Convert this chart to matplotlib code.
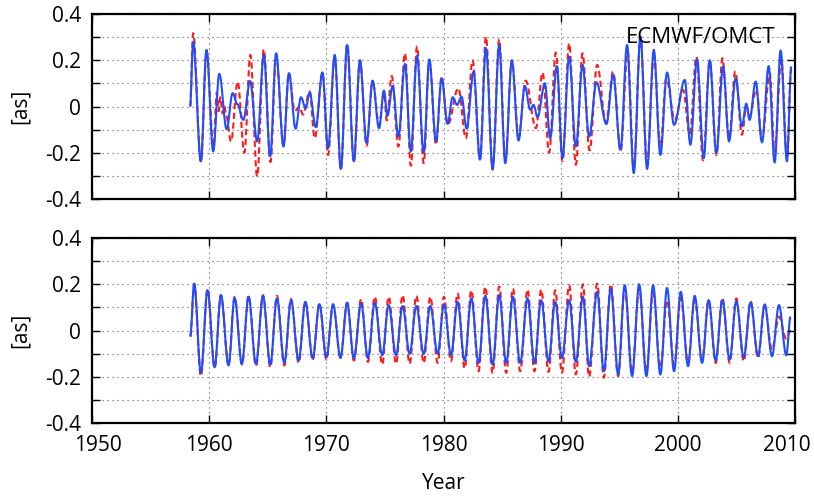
import matplotlib
matplotlib.use("Agg")
import matplotlib.pyplot as plt
from matplotlib.ticker import MultipleLocator, FuncFormatter
from matplotlib.path import Path
from matplotlib.patches import PathPatch
from matplotlib.transforms import ScaledTranslation

plt.rcParams["font.family"] = ["Open Sans", "DejaVu Sans"]
plt.rcParams["axes.unicode_minus"] = False

# ---- upper panel: ECMWF/OMCT excitation, turning points of each curve ----
top_blue_t = [1958.37, 1958.63, 1959.29, 1959.77, 1960.34, 1960.86, 1961.49, 1962.00, 1962.40,
              1962.91, 1963.49, 1964.09, 1964.66, 1965.20, 1965.71, 1966.34, 1966.80, 1967.37,
              1967.83, 1968.23, 1968.57, 1969.09, 1969.66, 1970.14, 1970.71, 1971.23, 1971.77,
              1972.34, 1972.86, 1973.43, 1973.94, 1974.49, 1974.91, 1975.20, 1975.65, 1976.14,
              1976.70, 1977.20, 1977.73, 1978.30, 1978.78, 1979.35, 1979.83, 1980.34, 1980.77,
              1981.15, 1981.53, 1981.96, 1982.56, 1983.10, 1983.61, 1984.18, 1984.74, 1985.26,
              1985.82, 1986.39, 1986.93, 1987.39, 1987.67, 1988.01, 1988.64, 1989.09, 1989.66,
              1990.14, 1990.71, 1991.28, 1991.85, 1992.41, 1993.04, 1993.89, 1994.46, 1995.09,
              1995.65, 1996.22, 1996.79, 1997.36, 1997.93, 1998.49, 1999.06, 1999.66, 2000.57,
              2001.05, 2001.62, 2002.19, 2002.70, 2003.27, 2003.84, 2004.35, 2004.91, 2005.45,
              2005.82, 2006.10, 2006.62, 2007.16, 2007.73, 2008.24, 2008.75, 2009.29, 2009.66]
top_blue_v = [0.000, 0.280, -0.237, 0.245, -0.194, 0.141, -0.098, 0.058, 0.010,
              -0.058, 0.110, -0.151, 0.223, -0.216, 0.230, -0.173, 0.144, -0.096,
              0.040, -0.007, 0.060, -0.089, 0.147, -0.180, 0.223, -0.270, 0.266,
              -0.237, 0.199, -0.158, 0.112, -0.094, 0.069, -0.040, 0.089, -0.130,
              0.184, -0.194, 0.219, -0.199, 0.204, -0.151, 0.122, -0.075, 0.040,
              0.007, 0.043, -0.096, 0.151, -0.230, 0.252, -0.270, 0.266, -0.245,
              0.199, -0.147, 0.089, -0.014, 0.007, -0.046, 0.100, -0.137, 0.175,
              -0.223, 0.216, -0.173, 0.180, -0.130, 0.104, -0.076, 0.137, -0.187,
              0.266, -0.288, 0.302, -0.270, 0.245, -0.209, 0.147, -0.079, 0.115,
              -0.165, 0.204, -0.223, 0.200, -0.200, 0.173, -0.151, 0.122, -0.086,
              0.012, -0.058, 0.108, -0.155, 0.175, -0.242, 0.242, -0.237, 0.173]

top_red_t = [1958.37, 1958.63, 1959.29, 1959.77, 1960.37, 1960.65, 1960.80, 1960.95, 1961.15,
             1961.30, 1961.45, 1961.86, 1962.43, 1963.00, 1963.51, 1964.09, 1964.66, 1965.23,
             1965.71, 1966.34, 1966.80, 1967.30, 1967.70, 1968.00, 1968.57, 1969.00, 1969.66,
             1970.14, 1970.71, 1971.23, 1971.77, 1972.34, 1972.86, 1973.43, 1973.94, 1974.49,
             1974.91, 1975.15, 1975.57, 1976.14, 1976.70, 1977.20, 1977.73, 1978.30, 1978.78,
             1979.35, 1979.83, 1980.34, 1981.25, 1981.90, 1982.47, 1983.10, 1983.61, 1984.18,
             1984.74, 1985.26, 1985.82, 1986.39, 1987.00, 1987.87, 1988.44, 1989.00, 1989.57,
             1990.14, 1990.71, 1991.28, 1991.85, 1992.45, 1993.10, 1993.85, 1994.46, 1995.09,
             1995.70, 1996.22, 1996.79, 1997.36, 1997.93, 1998.49, 1999.00, 1999.72, 2000.43,
             2001.00, 2001.56, 2002.13, 2002.70, 2003.27, 2003.78, 2004.35, 2004.88, 2005.45,
             2005.82, 2006.10, 2006.68, 2007.16, 2007.82, 2008.24, 2008.81, 2009.29, 2009.66]
top_red_v = [0.000, 0.317, -0.240, 0.237, -0.173, 0.060, -0.020, 0.040, -0.030,
             0.000, -0.040, -0.151, 0.108, -0.200, 0.223, -0.302, 0.247, -0.240,
             0.223, -0.170, 0.144, -0.020, 0.000, -0.035, 0.065, -0.137, 0.147,
             -0.210, 0.215, -0.275, 0.270, -0.240, 0.200, -0.170, 0.110, -0.080,
             0.060, -0.060, 0.132, -0.173, 0.230, -0.256, 0.259, -0.245, 0.200,
             -0.165, 0.130, -0.080, 0.079, -0.137, 0.200, -0.227, 0.302, -0.273,
             0.290, -0.237, 0.200, -0.130, 0.112, -0.094, 0.147, -0.200, 0.233,
             -0.237, 0.273, -0.252, 0.230, -0.190, 0.180, -0.070, 0.151, -0.194,
             0.237, -0.266, 0.302, -0.245, 0.216, -0.173, 0.122, -0.058, 0.072,
             -0.122, 0.216, -0.233, 0.200, -0.210, 0.209, -0.137, 0.151, -0.122,
             0.000, -0.040, 0.075, -0.145, 0.144, -0.194, 0.204, -0.216, 0.165]

# ---- lower panel: turning points shared by both curves ----
bottom_t = [1958.38, 1958.72, 1959.29, 1959.86, 1960.46, 1961.00, 1961.65, 1962.17, 1962.79,
            1963.36, 1963.99, 1964.59, 1965.21, 1965.78, 1966.41, 1966.98, 1967.63, 1968.20,
            1968.83, 1969.40, 1970.00, 1970.57, 1971.20, 1971.77, 1972.34, 1972.96, 1973.54,
            1974.13, 1974.76, 1975.31, 1975.94, 1976.50, 1977.10, 1977.67, 1978.30, 1978.86,
            1979.49, 1980.03, 1980.63, 1981.19, 1981.79, 1982.36, 1982.98, 1983.55, 1984.18,
            1984.74, 1985.34, 1985.91, 1986.53, 1987.16, 1987.75, 1988.32, 1988.95, 1989.52,
            1990.09, 1990.71, 1991.28, 1991.88, 1992.41, 1993.10, 1993.67, 1994.26, 1994.89,
            1995.45, 1996.08, 1996.68, 1997.30, 1997.87, 1998.49, 1999.06, 1999.66, 2000.23,
            2000.85, 2001.42, 2002.05, 2002.61, 2003.21, 2003.78, 2004.40, 2004.97, 2005.60,
            2006.19, 2006.82, 2007.39, 2008.01, 2008.61, 2009.23, 2009.60]
bottom_blue_v = [-0.026, 0.203, -0.183, 0.174, -0.159, 0.153, -0.150, 0.141, -0.144,
                 0.146, -0.144, 0.149, -0.147, 0.139, -0.140, 0.131, -0.130, 0.124,
                 -0.121, 0.114, -0.116, 0.114, -0.119, 0.120, -0.121, 0.117, -0.119,
                 0.120, -0.107, 0.110, -0.107, 0.106, -0.101, 0.106, -0.101, 0.106,
                 -0.101, 0.113, -0.107, 0.124, -0.130, 0.139, -0.140, 0.150, -0.147,
                 0.153, -0.140, 0.146, -0.140, 0.139, -0.140, 0.131, -0.133, 0.124,
                 -0.119, 0.131, -0.136, 0.146, -0.154, 0.167, -0.176, 0.181, -0.190,
                 0.196, -0.197, 0.200, -0.197, 0.196, -0.190, 0.184, -0.176, 0.167,
                 -0.154, 0.150, -0.140, 0.131, -0.130, 0.131, -0.126, 0.127, -0.116,
                 0.121, -0.111, 0.113, -0.111, 0.110, -0.107, 0.060]
bottom_red_v = [-0.026, 0.200, -0.197, 0.180, -0.161, 0.153, -0.150, 0.146, -0.147,
                0.150, -0.154, 0.153, -0.159, 0.150, -0.151, 0.136, -0.140, 0.124,
                -0.126, 0.117, -0.126, 0.110, -0.116, 0.120, -0.130, 0.136, -0.136,
                0.146, -0.147, 0.146, -0.144, 0.153, -0.144, 0.150, -0.140, 0.146,
                -0.140, 0.146, -0.133, 0.160, -0.164, 0.174, -0.176, 0.189, -0.183,
                0.190, -0.183, 0.181, -0.176, 0.177, -0.176, 0.177, -0.179, 0.174,
                -0.183, 0.196, -0.190, 0.200, -0.200, 0.203, -0.204, 0.200, -0.197,
                0.181, -0.183, 0.181, -0.176, 0.164, -0.161, 0.131, -0.147, 0.139,
                -0.140, 0.131, -0.126, 0.131, -0.140, 0.141, -0.140, 0.139, -0.133,
                0.127, -0.119, 0.103, -0.083, 0.060, -0.036, 0.000]

year_ticks = [1950, 1960, 1970, 1980, 1990, 2000, 2010]

RED = "#ff1a1a"
BLUE = "#1f4dff"
FS = 15


def smooth_curve(ax, t, v, **kw):
    """Join successive turning points with cubic Bezier arcs whose
    tangents are flat at each turning point (sine-like swings)."""
    verts = [(t[0], v[0])]
    codes = [Path.MOVETO]
    k = 0.364
    for i in range(1, len(t)):
        dt = t[i] - t[i - 1]
        verts += [(t[i - 1] + k * dt, v[i - 1]), (t[i] - k * dt, v[i]), (t[i], v[i])]
        codes += [Path.CURVE4] * 3
    patch = PathPatch(Path(verts, codes), fill=False, capstyle="butt",
                      joinstyle="round", **kw)
    ax.add_patch(patch)
    return patch


fig = plt.figure(figsize=(8.14, 4.97), dpi=100)
ax_top = fig.add_axes([0.113, 0.5996, 0.864, 0.3722])
ax_bot = fig.add_axes([0.113, 0.1489, 0.864, 0.3722])


def yfmt(v, pos):
    return "0" if abs(v) < 1e-9 else f"{v:.1f}"


for ax in (ax_top, ax_bot):
    ax.set_xlim(1950, 2010)
    ax.set_ylim(-0.4, 0.4)
    ax.set_xticks(year_ticks)
    ax.yaxis.set_major_locator(MultipleLocator(0.2))
    ax.yaxis.set_minor_locator(MultipleLocator(0.1))
    ax.yaxis.set_major_formatter(FuncFormatter(yfmt))
    ax.tick_params(which="both", direction="in", top=True, right=True,
                   length=6, width=1.0, labelsize=FS, pad=8)
    ax.tick_params(axis="x", pad=9)
    ax.grid(True, which="both", axis="y", linestyle=(0, (1, 3.5)),
            color="#555555", linewidth=0.8)
    ax.grid(True, which="major", axis="x", linestyle=(0, (1, 3.5)),
            color="#555555", linewidth=0.8)
    for sp in ax.spines.values():
        sp.set_linewidth(1.6)
    ax.set_ylabel("[as]", fontsize=FS, labelpad=10)
    for lab in ax.get_yticklabels():
        lab.set_verticalalignment("center_baseline")

ax_top.tick_params(axis="x", labelbottom=False)

smooth_curve(ax_top, top_red_t, top_red_v, edgecolor=RED, lw=1.5,
             linestyle=(0, (3, 1.7)))
smooth_curve(ax_top, top_blue_t, top_blue_v, edgecolor=BLUE, lw=1.5)
ax_top.text(0.972, 0.93, "ECMWF/OMCT", transform=ax_top.transAxes,
            ha="right", va="top", fontsize=FS + 1)

smooth_curve(ax_bot, bottom_t, bottom_red_v, edgecolor=RED, lw=1.5,
             linestyle=(0, (3, 1.7)))
smooth_curve(ax_bot, bottom_t, bottom_blue_v, edgecolor=BLUE, lw=1.5)
ax_bot.set_xlabel("Year", fontsize=FS, labelpad=12)

# keep the outermost year labels inside the figure
xlabels = ax_bot.get_xticklabels()
xlabels[0].set_transform(xlabels[0].get_transform()
                         + ScaledTranslation(4 / 72, 0, fig.dpi_scale_trans))
xlabels[-1].set_transform(xlabels[-1].get_transform()
                          + ScaledTranslation(-6 / 72, 0, fig.dpi_scale_trans))

fig.savefig("out.png", dpi=100)
